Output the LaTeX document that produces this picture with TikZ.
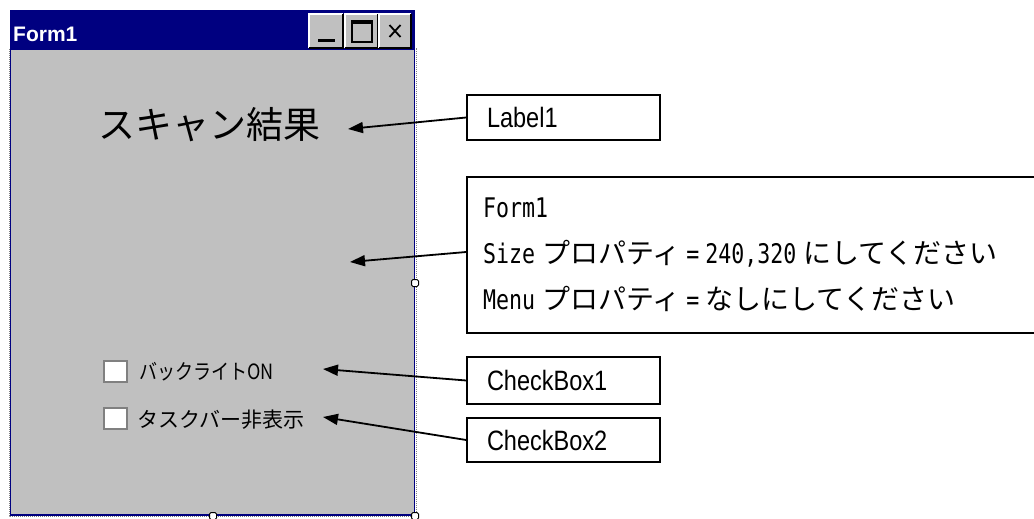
\documentclass[tikz,border=0pt]{standalone}
\usepackage{fontspec}
\usepackage{graphicx}
\usetikzlibrary{arrows.meta}
\newfontfamily\jp{Noto Sans CJK JP}
\newfontfamily\monof{DejaVu Sans Mono}
\newfontfamily\arialf{Liberation Sans}
\newcommand\hw[1]{\scalebox{0.8}[1]{\monof\fontsize{27}{27}\selectfont #1}}
\newcommand\nar[1]{\scalebox{0.84}[1]{#1}}
\definecolor{winnavy}{HTML}{000080}
\definecolor{wingray}{HTML}{C0C0C0}
\definecolor{windark}{HTML}{808080}
\begin{document}
\begin{tikzpicture}[x=1pt,y=-1pt,
  annot/.style={draw=black, line width=1.6pt, fill=white, inner xsep=20pt, inner ysep=0pt, align=left, anchor=center,
    font=\arialf\fontsize{28}{28}\selectfont},
  ptr/.style={line width=1.8pt, -{Triangle[length=15pt,width=11pt]}},
  winbtn/.style={fill=wingray},
]
\useasboundingbox (0,0) rectangle (1034,519);
\clip (0,0) rectangle (1034,519);

% window body
\fill[wingray] (10,50) rectangle (415,515);
\draw[windark, densely dotted, line width=1pt] (9,49) rectangle (416,516);
\draw[winnavy, line width=1.2pt] (10.6,50) -- (10.6,515) -- (414.4,515) -- (414.4,50);
% title bar
\fill[winnavy] (10,10) rectangle (415,50);
\node[anchor=west, text=white, inner sep=0pt, font=\arialf\bfseries\fontsize{21}{21}\selectfont] (title) at (13,34) {Form1};

% title buttons
\foreach \a/\b in {309/343,345/378,379/411}{
  \fill[winbtn] (\a,14) rectangle (\b,48);
  \draw[white, line width=1.5pt] (\a,48) -- (\a,14) -- (\b,14);
  \draw[black, line width=1.5pt] (\a,48) -- (\b,48) -- (\b,14);
}
\fill[black] (318,39) rectangle (335,42.5);
\draw[black, line width=1.4pt] (352,21) rectangle (372,42);
\fill[black] (352,20) rectangle (372,24);
\draw[black, line width=1.8pt] (389.5,25) -- (400.5,37) (389.5,37) -- (400.5,25);

% selection handles
\filldraw[fill=white, draw=black, line width=1pt, rounded corners=1.5pt] (411.5,279.5) rectangle (418.5,286.5);
\filldraw[fill=white, draw=black, line width=1pt, rounded corners=1.5pt] (209.5,512.5) rectangle (216.5,519.5);
\filldraw[fill=white, draw=black, line width=1pt, rounded corners=1.5pt] (411.5,512.5) rectangle (418.5,519.5);

% form contents
\node[font=\jp\fontsize{37}{37}\selectfont, inner sep=0pt] (scan) at (209,125) {スキャン結果};
\draw[fill=white, draw=windark, line width=1.5pt] (104,361) rectangle (127,382);
\draw[fill=white, draw=windark, line width=1.5pt] (104,408) rectangle (127,429);
\node[anchor=west, inner sep=0pt, font=\jp\fontsize{21}{21}\selectfont] (cb1t) at (139,372) {\scalebox{0.86}[1]{バックライトON}};
\node[anchor=west, inner sep=0pt, font=\jp\fontsize{21}{21}\selectfont] (cb2t) at (137,420) {タスクバー非表示};

% annotation boxes
\node[annot, minimum width=193pt, minimum height=45pt, text width=153pt] (lbl) at (563.5,117.5) {\nar{Label1}};
\node[annot, minimum width=573pt, minimum height=156pt, text width=541pt, inner xsep=16pt,
  font=\jp\fontsize{28}{46}\selectfont] (frm) at (753.5,255)
  {\hw{Form1}\\
   \hw{Size}\hspace{7pt}プロパティ\hspace{6pt}\hw{=}\hspace{6pt}\hw{240,320}\hspace{7pt}にしてください\\
   \hw{Menu}\hspace{7pt}プロパティ\hspace{6pt}\hw{=}\hspace{6pt}なしにしてください};
\node[annot, minimum width=193pt, minimum height=47pt, text width=153pt] (cb1) at (563.5,380.5) {\nar{CheckBox1}};
\node[annot, minimum width=193pt, minimum height=44pt, text width=153pt] (cb2) at (563.5,440) {\nar{CheckBox2}};

% pointers
\coordinate (p1) at (348,129);
\coordinate (p2) at (350,262);
\coordinate (p3) at (323,369);
\coordinate (p4) at (323,417);
\draw[ptr] (lbl.west) -- (p1);
\draw[ptr] ([yshift=3pt]frm.west) -- (p2);
\draw[ptr] (cb1.west) -- (p3);
\draw[ptr] (cb2.west) -- (p4);
\end{tikzpicture}
\end{document}
